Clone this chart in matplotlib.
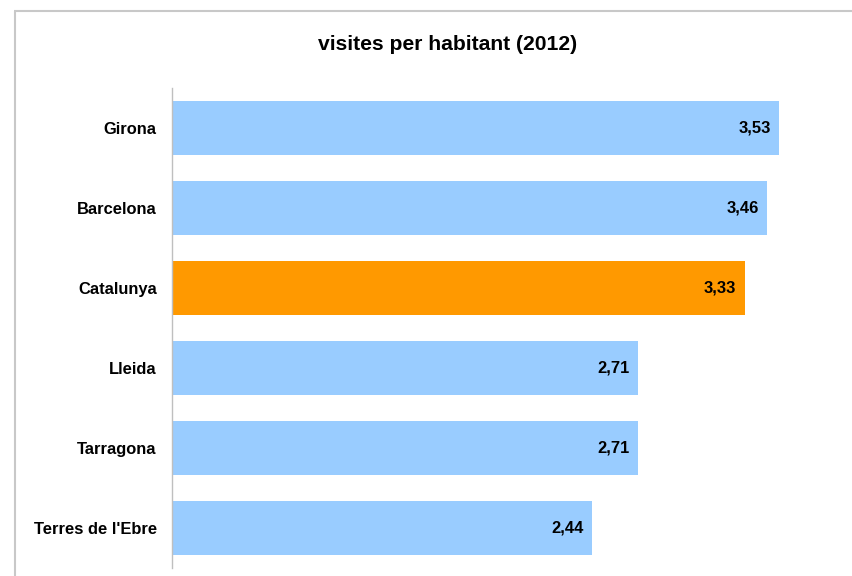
import matplotlib
matplotlib.use("Agg")
import matplotlib.pyplot as plt
from matplotlib.lines import Line2D

plt.rcParams['font.family'] = ['Liberation Sans', 'DejaVu Sans']

categories = ["Girona", "Barcelona", "Catalunya", "Lleida", "Tarragona", "Terres de l'Ebre"]
values = [3.53, 3.46, 3.33, 2.71, 2.71, 2.44]
highlight = "Catalunya"

W, H = 852, 576
fig = plt.figure(figsize=(W / 100, H / 100), dpi=100)

# frame around the chart area (clipped on right and bottom)
frame_color = "#C8C8C8"
fig.add_artist(Line2D([14.5 / W, 14.5 / W], [0, 1 - 10.5 / H], transform=fig.transFigure,
                      color=frame_color, lw=1.5, solid_capstyle="butt"))
fig.add_artist(Line2D([14 / W, 1], [1 - 10.5 / H, 1 - 10.5 / H], transform=fig.transFigure,
                      color=frame_color, lw=1.5, solid_capstyle="butt"))

left, right = 172, 852
top, bottom = 88, 568
ax = fig.add_axes([left / W, 1 - bottom / H, (right - left) / W, (bottom - top) / H])

colors = ["#FF9900" if c == highlight else "#99CCFF" for c in categories]
ypos = list(range(len(categories)))
ax.barh(ypos, values, height=0.675, color=colors, edgecolor="none")

ax.set_ylim(len(categories) - 0.5, -0.5)
ax.set_xlim(0, (right - left) / 172)

ax.set_yticks(ypos)
ax.set_yticklabels(categories, fontsize=11.9, fontweight="bold")
ax.tick_params(axis="y", length=0, pad=11)
ax.set_xticks([])

for s in ["top", "right", "bottom"]:
    ax.spines[s].set_visible(False)
ax.spines["left"].set_color("#BFBFBF")
ax.spines["left"].set_linewidth(1.0)

for y, v in zip(ypos, values):
    ax.annotate(f"{v:.2f}".replace(".", ","), xy=(v, y), xytext=(-6, 0),
                textcoords="offset points", ha="right", va="center",
                fontsize=11.9, fontweight="bold", color="black")

fig.text(448 / W, 1 - 44 / H, "visites per habitant (2012)", ha="center", va="center",
         fontsize=15.2, fontweight="bold")

fig.savefig("out.png", dpi=100)
